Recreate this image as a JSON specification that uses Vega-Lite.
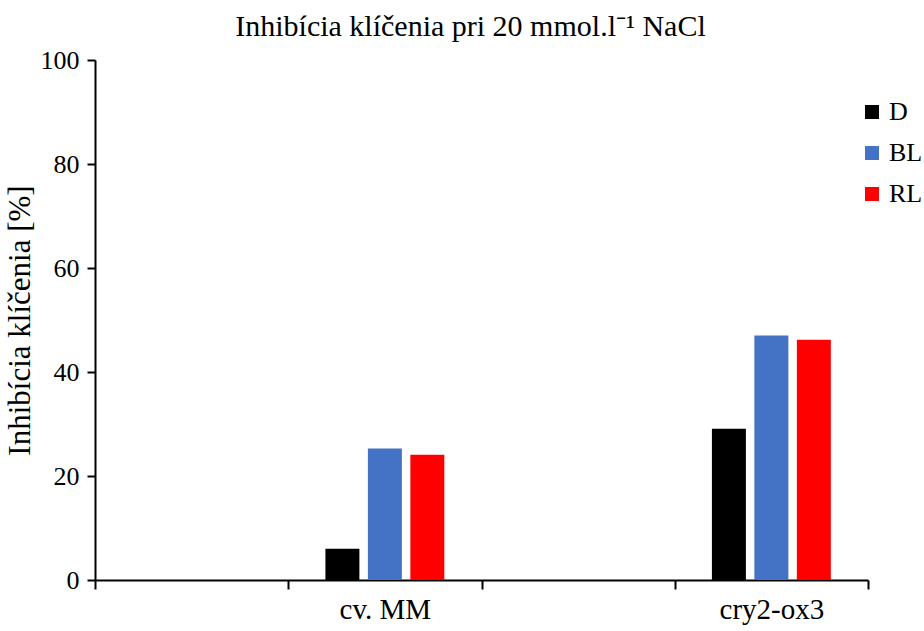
{
  "$schema": "https://vega.github.io/schema/vega-lite/v6.json",
  "autosize": "none",
  "width": 773,
  "height": 520,
  "padding": {"left": 95, "top": 60, "right": 56, "bottom": 51},
  "background": "white",
  "title": {
    "text": "Inhibícia klíčenia pri 20 mmol.l⁻¹ NaCl",
    "font": "Liberation Serif",
    "fontSize": 30,
    "fontWeight": "normal",
    "color": "black",
    "offset": 5,
    "dx": -11
  },
  "data": {
    "values": [
      {"genotyp": "cv. MM", "svetlo": "D", "hodnota": 6.0},
      {"genotyp": "cv. MM", "svetlo": "BL", "hodnota": 25.3},
      {"genotyp": "cv. MM", "svetlo": "RL", "hodnota": 24.1},
      {"genotyp": "cry2-ox3", "svetlo": "D", "hodnota": 29.1},
      {"genotyp": "cry2-ox3", "svetlo": "BL", "hodnota": 47.0},
      {"genotyp": "cry2-ox3", "svetlo": "RL", "hodnota": 46.2}
    ]
  },
  "mark": {"type": "bar"},
  "encoding": {
    "x": {
      "field": "genotyp",
      "type": "nominal",
      "scale": {"domain": ["_a", "cv. MM", "_b", "cry2-ox3"], "paddingInner": 0, "paddingOuter": 0},
      "axis": {
        "title": null,
        "labelAngle": 0,
        "labelExpr": "datum.value === '_a' || datum.value === '_b' ? '' : datum.value",
        "tickBand": "extent",
        "ticks": true,
        "tickSize": 9,
        "tickWidth": 2,
        "tickColor": "black",
        "domainColor": "black",
        "domainWidth": 2,
        "labelFont": "Liberation Serif",
        "labelFontSize": 29,
        "labelColor": "black",
        "labelPadding": 6,
        "grid": false
      }
    },
    "xOffset": {
      "field": "svetlo",
      "type": "nominal",
      "sort": ["D", "BL", "RL"],
      "scale": {"paddingInner": 0.2, "paddingOuter": 0.875}
    },
    "y": {
      "field": "hodnota",
      "type": "quantitative",
      "scale": {"domain": [0, 100], "nice": false},
      "axis": {
        "title": "Inhibícia klíčenia [%]",
        "titleFont": "Liberation Serif",
        "titleFontSize": 31,
        "titleFontWeight": "normal",
        "titleColor": "black",
        "titlePadding": 4,
        "values": [0, 20, 40, 60, 80, 100],
        "labelFont": "Liberation Serif",
        "labelFontSize": 26,
        "labelColor": "black",
        "labelPadding": 8,
        "tickSize": 8,
        "tickWidth": 2,
        "tickColor": "black",
        "domainColor": "black",
        "domainWidth": 2,
        "grid": false
      }
    },
    "color": {
      "field": "svetlo",
      "type": "nominal",
      "sort": ["D", "BL", "RL"],
      "scale": {"domain": ["D", "BL", "RL"], "range": ["#000000", "#4472C4", "#FF0000"]},
      "legend": {
        "title": null,
        "orient": "none",
        "legendX": 764,
        "legendY": 39,
        "padding": 0,
        "symbolType": "square",
        "symbolSize": 196,
        "symbolStrokeWidth": 0,
        "symbolOpacity": 1,
        "labelFont": "Liberation Serif",
        "labelFontSize": 26,
        "labelColor": "black",
        "labelOffset": 4,
        "rowPadding": 15
      }
    }
  },
  "config": {
    "view": {"stroke": null}
  }
}
